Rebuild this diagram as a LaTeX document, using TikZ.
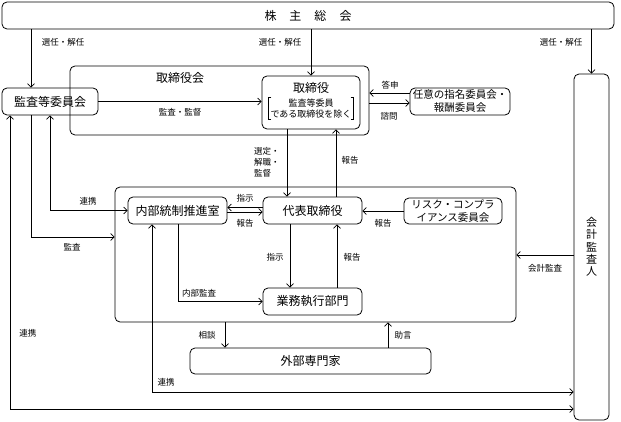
\documentclass[tikz,border=0pt]{standalone}
\usepackage{fontspec}
\setmainfont{Noto Sans CJK JP}
\usetikzlibrary{arrows.meta}
\begin{document}
\begin{tikzpicture}[x=1pt,y=-1pt,
  box/.style={draw,rounded corners=5pt,line width=0.8pt,inner sep=0pt,font=\fontsize{12}{14}\selectfont,align=center},
  lbl/.style={font=\fontsize{8.5}{11}\selectfont,inner sep=0pt,align=left},
  ln/.style={line width=0.7pt},
  arr/.style={ln,-{Straight Barb[length=3.5pt,width=7pt]}},
  biarr/.style={ln,{Straight Barb[length=3.5pt,width=7pt]}-{Straight Barb[length=3.5pt,width=7pt]}}]
\useasboundingbox (0,0) rectangle (621,422);
% boxes
\node[box,minimum width=612pt,minimum height=27pt] (soukai) at (308,15.5) {株\hspace{13pt}主\hspace{13pt}総\hspace{13pt}会};
\node[box,minimum width=299pt,minimum height=69pt] (torikai) at (219.5,100.5) {};
\node[font=\fontsize{12}{14}\selectfont,inner sep=0pt] (torikailbl) at (180,78) {取締役会};
\node[box,minimum width=98pt,minimum height=53pt] (tori) at (311,102.5) {};
\node[font=\fontsize{12}{14}\selectfont,inner sep=0pt] (toritxt) at (311,88) {取締役};
\node[font=\fontsize{9}{11}\selectfont,inner xsep=2pt,inner ysep=1pt,align=center] (sub) at (311,108.5) {監査等委員\\である取締役を除く};
\draw[ln] ([xshift=3pt]sub.north west) -- (sub.north west) -- (sub.south west) -- ([xshift=3pt]sub.south west);
\draw[ln] ([xshift=-3pt]sub.north east) -- (sub.north east) -- (sub.south east) -- ([xshift=-3pt]sub.south east);
\node[box,minimum width=96pt,minimum height=27pt] (kansa) at (50,101.5) {監査等委員会};
\node[box,minimum width=100pt,minimum height=27pt,font=\fontsize{10.5}{13}\selectfont] (nini) at (460,101.5) {任意の指名委員会・\\報酬委員会};
\node[box,minimum width=35pt,minimum height=346pt,font=\fontsize{11}{12.3}\selectfont] (kaikei) at (591.5,247) {会\\計\\監\\査\\人};
\node[box,minimum width=401pt,minimum height=135pt] (big) at (315.5,254.5) {};
\node[box,minimum width=99pt,minimum height=27pt] (naibu) at (177.5,210.5) {内部統制推進室};
\node[box,minimum width=99pt,minimum height=27pt] (daihyo) at (312.5,210.5) {代表取締役};
\node[box,minimum width=98pt,minimum height=26pt,font=\fontsize{10.5}{13}\selectfont] (risk) at (453,211) {リスク・コンプラ\\イアンス委員会};
\node[box,minimum width=99pt,minimum height=27pt] (gyomu) at (312.5,301.5) {業務執行部門};
\node[box,minimum width=241pt,minimum height=26pt] (gaibu) at (310.5,361) {外部専門家};
% connectors
\draw[arr] (soukai.south -| 31,0) -- (kansa.north -| 31,0);
\node[lbl] (l1) at (63,42) {選任・解任};
\draw[arr] (soukai.south -| tori.north) -- (tori.north);
\node[lbl] (l2) at (280,42) {選任・解任};
\draw[arr] (soukai.south -| kaikei.north) -- (kaikei.north);
\node[lbl] (l3) at (561,42) {選任・解任};
\draw[arr] (kansa.east) -- (tori.west |- kansa.east);
\node[lbl] (l4) at (180,112) {監査・監督};
\draw[arr] (nini.west |- 0,93) -- (torikai.east |- 0,93);
\node[lbl] (l5) at (390,85) {答申};
\draw[arr] (torikai.east |- 0,103) -- (nini.west |- 0,103);
\node[lbl] (l6) at (389,116) {諮問};
\draw[arr] (tori.south -| 287,0) -- (daihyo.north -| 287,0);
\node[lbl,anchor=west] (l7) at (254,162) {選定・\\解職・\\監督};
\draw[arr] (daihyo.north -| 336,0) -- (tori.south -| 336,0);
\node[lbl] (l8) at (350,160) {報告};
\draw[arr] (daihyo.west |- 0,207.5) -- (naibu.east |- 0,207.5);
\node[lbl] (l9) at (245,198) {指示};
\draw[arr] (naibu.east |- 0,212) -- (daihyo.west |- 0,212);
\node[lbl] (l10) at (245,223) {報告};
\draw[arr] (risk.west) -- (daihyo.east |- risk.west);
\node[lbl] (l11) at (383,223) {報告};
\draw[arr] (daihyo.south -| 290,0) -- (gyomu.north -| 290,0);
\node[lbl] (l12) at (275,257) {指示};
\draw[arr] (gyomu.north -| 337,0) -- (daihyo.south -| 337,0);
\node[lbl] (l13) at (352,257) {報告};
\draw[arr] (naibu.south -| 178,0) |- (gyomu.west);
\node[lbl] (l14) at (199,293) {内部監査};
\draw[arr] (big.south -| 225,0) -- (gaibu.north -| 225,0);
\node[lbl] (l15) at (207,335) {相談};
\draw[arr] (gaibu.north -| 388,0) -- (big.south -| 388,0);
\node[lbl] (l16) at (403,335) {助言};
\draw[arr] (kaikei.west |- 0,255) -- (big.east |- 0,255);
\node[lbl] (l17) at (545,268) {会計監査};
\draw[biarr] (kansa.south -| 50,0) |- (naibu.west);
\node[lbl] (l18) at (88,201) {連携};
\draw[arr] (kansa.south -| 31,0) |- (big.west |- 0,237);
\node[lbl] (l19) at (72,247) {監査};
\draw[biarr] (kansa.south -| 10,0) |- (kaikei.west |- 0,409);
\node[lbl] (l20) at (28,333) {連携};
\draw[biarr] (naibu.south -| 152,0) |- (kaikei.west |- 0,392);
\node[lbl] (l21) at (166,382) {連携};
\end{tikzpicture}
\end{document}
